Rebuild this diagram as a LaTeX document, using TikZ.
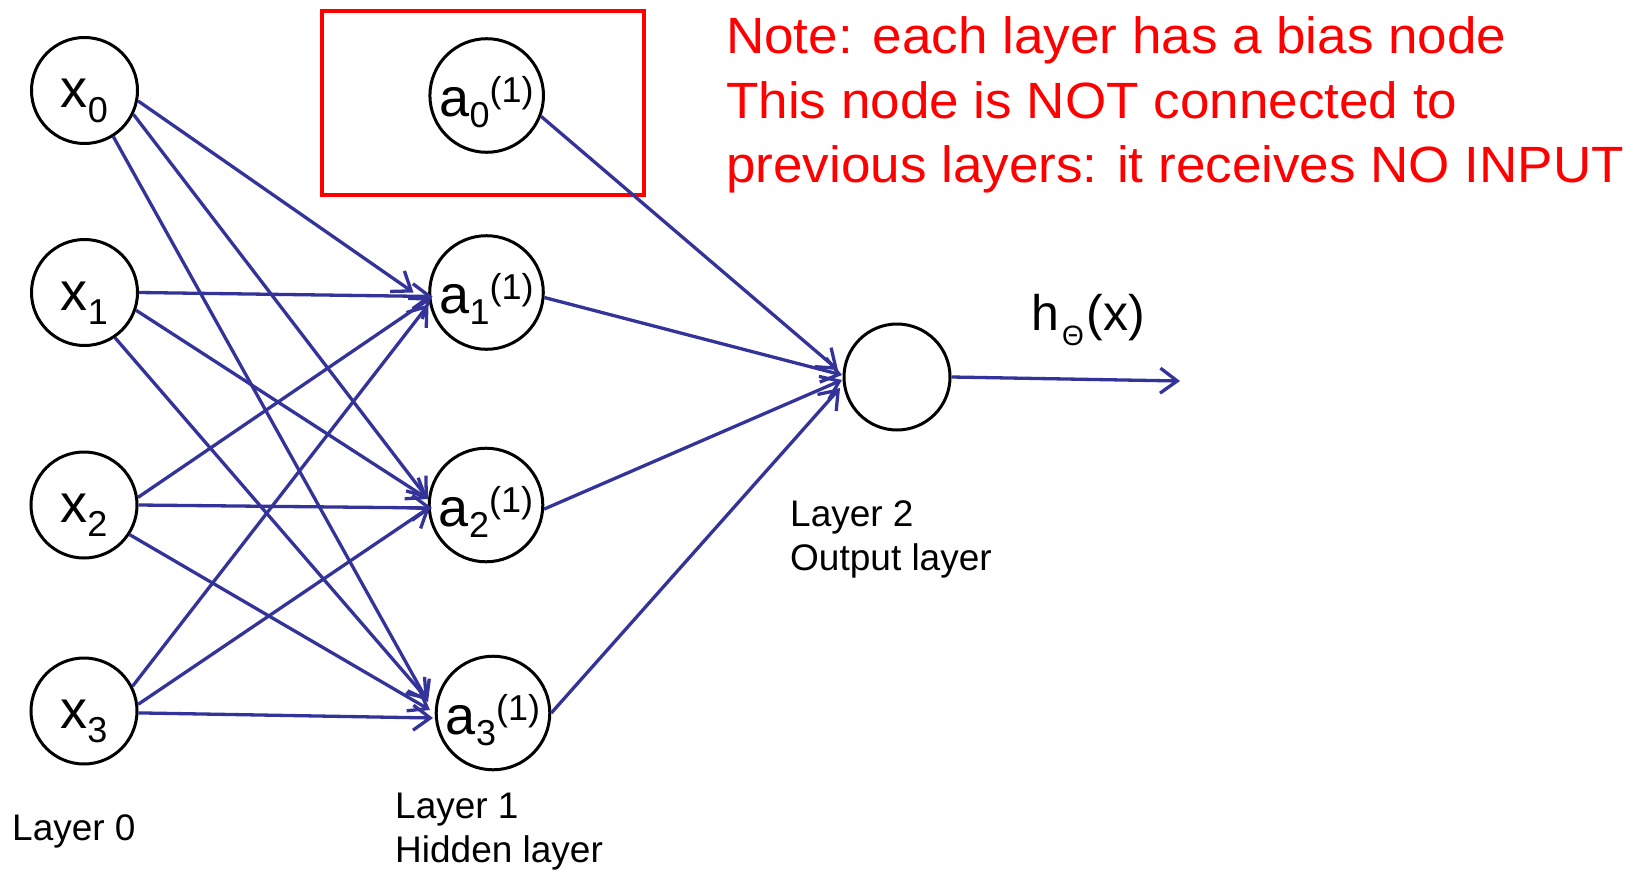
\documentclass[tikz,border=0pt]{standalone}
\usepackage{fontspec}
\setmainfont{Liberation Sans}
\usetikzlibrary{arrows.meta,calc}
\definecolor{wireblue}{RGB}{51,51,153}
\newcommand{\fsz}[1]{\fontsize{#1}{#1}\selectfont}
\newcommand{\xlab}[1]{{\fsz{54}x}\raisebox{-14pt}{\fsz{36}#1}}
\newcommand{\alab}[1]{{\fsz{54}a}\raisebox{-11pt}{\fsz{36}#1}\raisebox{14pt}{\fsz{36}(1)}}
\begin{document}
\begin{tikzpicture}[x=1pt,y=-1pt,
  neuron/.style={circle, draw=black, line width=3pt, minimum size=106pt, inner sep=0pt},
  xtext/.style={text height=49pt, text depth=14pt},
  atext/.style={text height=53pt, text depth=11pt},
  wire/.style={draw=wireblue, line width=3.3pt,
    -{Straight Barb[length=17pt, width=25pt]}},
  layertext/.style={font=\fontsize{37}{44}\selectfont, align=left, anchor=base west, inner sep=0pt},
  biasframe/.style={draw=red, line width=3.2pt}]
\useasboundingbox (0,0) rectangle (1637,872);

% input layer
\node[neuron, xtext] (x0) at (84.5,90.5) {\xlab{0}};
\node[neuron, xtext] (x1) at (84.5,292.5) {\xlab{1}};
\node[neuron, xtext] (x2) at (84,505) {\xlab{2}};
\node[neuron, xtext] (x3) at (84,711) {\xlab{3}};

% hidden layer with its bias unit
\node[neuron, atext] (a0) at (486.7,95.5) {\alab{0}};
\node[neuron, atext] (a1) at (486.5,292.5) {\alab{1}};
\node[neuron, atext] (a2) at (486,505) {\alab{2}};
\node[neuron, atext] (a3) at (493,713) {\alab{3}};
\draw[biasframe] (322,11) rectangle (644,195);

% output unit
\node[neuron] (out) at (897,377) {};
\coordinate (hx) at (1180,381);

% input -> hidden
\draw[wire] (x0.-11.5) -- ($(a1)+(-73,0)$);
\draw[wire] (x0.-26)   -- ($(a2)+(-58,-6)$);
\draw[wire] (x0.-58)   -- ($(a3)+(-65,-11)$);
\draw[wire] (x1.0)     -- ($(a1)+(-54,4)$);
\draw[wire] (x1.-19)   -- ($(a2)+(-58,-6)$);
\draw[wire] (x1.-56)   -- ($(a3)+(-65,-13)$);
\draw[wire] (x2.8)     -- ($(a1)+(-55,5)$);
\draw[wire] (x2.0)     -- ($(a2)+(-54,3)$);
\draw[wire] (x2.-33)   -- ($(a3)+(-63,-3)$);
\draw[wire] (x3.27)    -- ($(a1)+(-58,12)$);
\draw[wire] (x3.7)     -- ($(a2)+(-56,2)$);
\draw[wire] (x3.-2)    -- ($(a3)+(-60,5)$);

% hidden -> output
\draw[wire] (a0.-21) -- ($(out)+(-59,-7)$);
\draw[wire] (a1.-5)  -- ($(out)+(-55,-2)$);
\draw[wire] (a2.-4)  -- ($(out)+(-55,3)$);
\draw[wire] (a3.0)   -- ($(out)+(-57,11)$);
\draw[wire] (out.east) -- (hx);

% labels (base anchor of a multi-line node is its last line)
\node[anchor=base west, inner sep=0pt] (hlabel) at (1031,330)
  {{\fsz{50}h}\hspace{3pt}\raisebox{-15pt}{\fsz{28}Θ}\hspace{3pt}{\fsz{50}(x)}};
\node[layertext] (l0) at (12,840) {Layer 0};
\node[layertext] (l1) at (395,862) {Layer 1\\Hidden layer};
\node[layertext] (l2) at (790,570) {Layer 2\\Output layer};
\node[anchor=base west, inner sep=0pt, text=red] (note) at (726,182)
  {\scalebox{1.04}[1]{\fontsize{51}{64}\selectfont\begin{tabular}[b]{@{}l@{}}Note: each layer has a bias node\\This node is NOT connected to\\previous layers: it receives NO INPUT\end{tabular}}};
\end{tikzpicture}
\end{document}
